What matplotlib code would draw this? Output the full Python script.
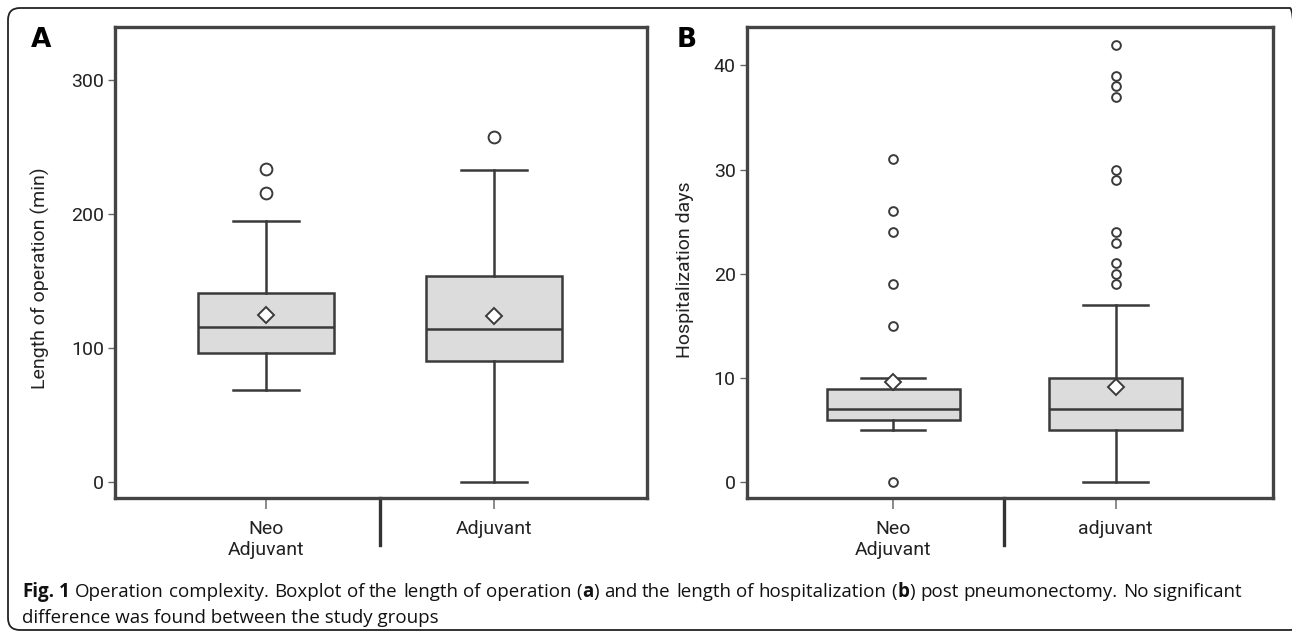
import matplotlib
matplotlib.use("Agg")
import matplotlib.pyplot as plt
from matplotlib.patches import FancyBboxPatch
from matplotlib.transforms import IdentityTransform

# %%
# Values
groups_a = ["Neo\nAdjuvant", "Adjuvant"]
groups_b = ["Neo\nAdjuvant", "adjuvant"]

# Panel A: length of operation (min)
op_q1 = [96, 90]
op_med = [116, 114]
op_q3 = [141, 154]
op_lo = [69, 0]
op_hi = [195, 233]
op_mean = [125, 124]
op_fliers = [[234, 216], [258]]

# Panel B: hospitalization days
hosp_q1 = [6, 5]
hosp_med = [7, 7]
hosp_q3 = [9, 10]
hosp_lo = [5, 0]
hosp_hi = [10, 17]
hosp_mean = [9.6, 9.1]
hosp_fliers = [[31, 26, 24, 19, 15, 0],
               [42, 39, 38, 37, 30, 29, 24, 23, 21, 20, 19]]

# ** marks bold runs
caption_line1 = ("**Fig. 1** Operation complexity. Boxplot of the length of operation (**a**) "
                 "and the length of hospitalization (**b**) post pneumonectomy. No significant")
caption_line2 = "difference was found between the study groups"

# %%
plt.rcParams["font.family"] = ["Roboto", "DejaVu Sans"]

DARK = "#3a3a3a"
FILL = "#dcdcdc"
W, H = 1292, 632


def stats(q1, med, q3, lo, hi, mean, fliers):
    out = []
    for i in range(len(q1)):
        out.append(dict(q1=q1[i], med=med[i], q3=q3[i], whislo=lo[i], whishi=hi[i],
                        mean=mean[i], fliers=fliers[i]))
    return out


def panel(ax, st, labels, ylabel, yticks, ylim, xlim, flier_size, letter, lab_xy, let_x):
    ax.bxp(st, positions=[1, 2], widths=0.597, showmeans=True, patch_artist=True,
           boxprops=dict(facecolor=FILL, edgecolor=DARK, linewidth=1.8),
           medianprops=dict(color=DARK, linewidth=1.8),
           whiskerprops=dict(color=DARK, linewidth=1.8),
           capprops=dict(color=DARK, linewidth=1.8),
           capwidths=0.29,
           meanprops=dict(marker="D", markerfacecolor="white", markeredgecolor=DARK,
                          markersize=8, markeredgewidth=1.4),
           flierprops=dict(marker="o", markerfacecolor="none", markeredgecolor=DARK,
                           markersize=flier_size, markeredgewidth=1.4))
    ax.set_xlim(*xlim)
    ax.set_ylim(*ylim)
    ax.set_yticks(yticks)
    ax.set_xticks([1, 2])
    ax.set_xticklabels(labels, fontsize=14, color="#222222", linespacing=1.2)
    ax.tick_params(axis="y", labelsize=14, labelcolor="#222222", length=5, width=1,
                   color="#666666", pad=3)
    ax.tick_params(axis="x", length=8, width=1.2, color="#777777", pad=8)
    for s in ax.spines.values():
        s.set_linewidth(2.4)
        s.set_color("#444444")
    ax.set_ylabel(ylabel, fontsize=14, color="#222222")
    ax.yaxis.set_label_coords(*lab_xy)
    # group separator under the axis
    ax.plot([1.5, 1.5], [0, -0.1], color="#333333", linewidth=2.4,
            transform=ax.get_xaxis_transform(), clip_on=False)
    ax.text(let_x, 0.972, letter, transform=ax.transAxes, fontsize=19,
            fontweight="bold", family="DejaVu Sans", va="center", ha="center")


fig = plt.figure(figsize=(W / 100, H / 100), dpi=100)

# rounded frame, running off the right and bottom edges
frame = FancyBboxPatch((8, 2), 1294, H - 10,
                       boxstyle="round,pad=0,rounding_size=12",
                       transform=IdentityTransform(), facecolor="none",
                       edgecolor="#222222", linewidth=1.3)
fig.patches.append(frame)

ax1 = fig.add_axes([115.2 / W, 1 - 498 / H, 531.4 / W, 471.2 / H])
panel(ax1, stats(op_q1, op_med, op_q3, op_lo, op_hi, op_mean, op_fliers),
      groups_a, "Length of operation (min)", [0, 100, 200, 300], (-12, 340),
      (0.34, 2.67), 8.5, "A", (-0.123, 0.467), -0.14)

ax2 = fig.add_axes([746.9 / W, 1 - 498 / H, 526.1 / W, 471.2 / H])
panel(ax2, stats(hosp_q1, hosp_med, hosp_q3, hosp_lo, hosp_hi, hosp_mean, hosp_fliers),
      groups_b, "Hospitalization days", [0, 10, 20, 30, 40], (-1.5, 43.7),
      (0.343, 2.707), 6.3, "B", (-0.1, 0.484), -0.114)

# caption: first line justified between x0 and x1
cfont = ["Open Sans", "DejaVu Sans"]
csize = 13.5
x0, x1 = 22, 1242
y1, y2 = 597, 623  # baselines in pixels from the top
fig.canvas.draw()
r = fig.canvas.get_renderer()


def place_runs(runs, x, y):
    # draw runs of (text, bold) side by side starting at pixel x
    for txt, bold in runs:
        t = fig.text(x / W, 1 - y / H, txt, fontsize=csize, va="baseline", color="#111111",
                     family=cfont, fontweight="bold" if bold else "normal")
        x = t.get_window_extent(r).x1
    return x


parts = caption_line1.split("**")
words = [[]]
for i, p in enumerate(parts):
    bold = i % 2 == 1
    chunks = p.split(" ")
    for j, c in enumerate(chunks):
        if j > 0:
            words.append([])
        if c:
            words[-1].append((c, bold))
words = [w for w in words if w]

# measure words
widths = []
for w in words:
    tmp = [fig.text(0, 0, txt, fontsize=csize, family=cfont,
                    fontweight="bold" if b else "normal") for txt, b in w]
    widths.append(sum(t.get_window_extent(r).width for t in tmp))
    for t in tmp:
        t.remove()
gap = (x1 - x0 - sum(widths)) / (len(words) - 1)
x = x0
for w, wd in zip(words, widths):
    place_runs(w, x, y1)
    x += wd + gap

fig.text(x0 / W, 1 - y2 / H, caption_line2, fontsize=csize, va="baseline", color="#111111",
         family=cfont)

fig.savefig("out.png", dpi=100)
